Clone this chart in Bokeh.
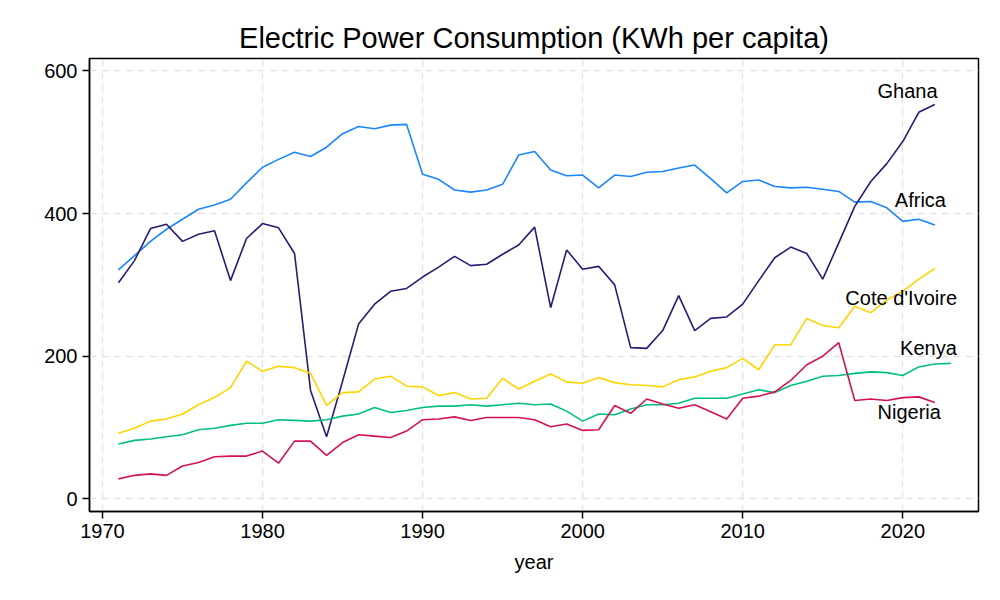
from bokeh.core.properties import value
from bokeh.embed import file_html
from bokeh.models import ColumnDataSource, FixedTicker, Range1d
from bokeh.plotting import figure
from bokeh.resources import INLINE

# Electric power consumption, KWh per capita
years = list(range(1971, 2023))
years_kenya = list(range(1971, 2024))

africa = [321, 341, 361, 378, 392, 406, 412, 420, 443, 465,
          476, 486, 480, 493, 512, 522, 519, 524, 525, 455,
          448, 433, 430, 433, 441, 482, 487, 461, 453, 454,
          436, 454, 452, 458, 459, 464, 468, 449, 429, 445,
          447, 438, 436, 437, 434, 431, 416, 417, 408, 389,
          392, 384]
ghana = [303, 334, 379, 385, 361, 371, 376, 306, 365, 386,
         380, 344, 152, 87, 165, 245, 273, 291, 295, 311,
         325, 340, 327, 329, 343, 356, 381, 268, 349, 322,
         326, 300, 212, 211, 236, 285, 236, 253, 255, 273,
         306, 338, 353, 344, 308, 359, 410, 445, 470, 501,
         542, 553]
cote_divoire = [92, 99, 109, 112, 119, 132, 142, 156, 193, 179,
                186, 184, 176, 131, 149, 150, 168, 172, 158, 157,
                145, 149, 140, 141, 169, 154, 165, 175, 164, 162,
                170, 163, 160, 159, 157, 167, 171, 179, 184, 197,
                181, 216, 216, 253, 243, 240, 270, 261, 279, 291,
                308, 323]
kenya = [77, 82, 84, 87, 90, 97, 99, 103, 106, 106,
         111, 110, 109, 111, 116, 119, 128, 121, 124, 128,
         130, 130, 132, 130, 132, 134, 132, 133, 123, 109,
         119, 118, 126, 132, 132, 134, 141, 141, 141, 147,
         153, 149, 159, 165, 172, 173, 176, 178, 177, 173,
         185, 189, 190]
nigeria = [28, 33, 35, 33, 46, 51, 59, 60, 60, 67,
           50, 81, 81, 61, 79, 90, 88, 86, 95, 111,
           112, 115, 110, 114, 114, 114, 111, 101, 105, 96,
           97, 131, 120, 140, 133, 127, 132, 122, 112, 141,
           144, 150, 166, 188, 200, 219, 138, 140, 138, 142,
           143, 135]

x_ticks = [1970, 1980, 1990, 2000, 2010, 2020]
y_ticks = [0, 200, 400, 600]

FONT = "Liberation Sans"

p = figure(frame_width=889, frame_height=453,
           x_range=Range1d(1969.19, 2024.73), y_range=Range1d(-17.7, 617.4),
           output_backend="svg", toolbar_location=None,
           min_border_left=89, min_border_right=22,
           min_border_top=58, min_border_bottom=20)

p.title.text = "Electric Power Consumption (KWh per capita)"
p.title.align = "center"
p.title.text_font = FONT
p.title.text_font_size = "29px"
p.title.text_font_style = "normal"
p.title.text_color = "black"

p.outline_line_color = "black"
p.outline_line_width = 1.5
p.outline_line_alpha = 1

for ax in (p.xaxis, p.yaxis):
    ax.axis_line_color = "black"
    ax.axis_line_width = 1.5
    ax.major_tick_line_color = "black"
    ax.major_tick_line_width = 1.5
    ax.major_tick_in = 0
    ax.major_tick_out = 7
    ax.minor_tick_line_color = None
    ax.major_label_text_font = FONT
    ax.major_label_text_font_size = "20px"
    ax.major_label_text_color = "black"
    ax.major_label_standoff = 5

p.xaxis.ticker = FixedTicker(ticks=x_ticks)
p.yaxis.ticker = FixedTicker(ticks=y_ticks)
p.xaxis.axis_label = "year"
p.xaxis.axis_label_text_font = FONT
p.xaxis.axis_label_text_font_size = "20px"
p.xaxis.axis_label_text_font_style = "normal"
p.xaxis.axis_label_text_color = "black"
p.xaxis.axis_label_standoff = 10

for g in (p.xgrid, p.ygrid):
    g.grid_line_color = "#e4e4e4"
    g.grid_line_width = 1.5
    g.grid_line_dash = "7 5"

series = [
    ("Africa", years, africa, "#1a85ff"),
    ("Ghana", years, ghana, "#2a1a72"),
    ("Cote d'Ivoire", years, cote_divoire, "#ffd400"),
    ("Kenya", years_kenya, kenya, "#00bf7f"),
    ("Nigeria", years, nigeria, "#d41159"),
]
for name, xs, ys, color in series:
    src = ColumnDataSource(dict(x=xs, y=ys))
    p.line("x", "y", source=src, line_color=color, line_width=1.6)

# series labels near the right end
labels = ColumnDataSource(dict(
    x=[2020.3, 2021.1, 2019.9, 2021.6, 2020.4],
    y=[572, 419, 282, 212, 122],
    t=["Ghana", "Africa", "Cote d'Ivoire", "Kenya", "Nigeria"],
))
p.text("x", "y", text="t", source=labels, text_font=value(FONT),
       text_font_size="20px", text_align="center",
       text_baseline="middle", text_color="black")

open("out.html", "w").write(file_html(p, INLINE))
